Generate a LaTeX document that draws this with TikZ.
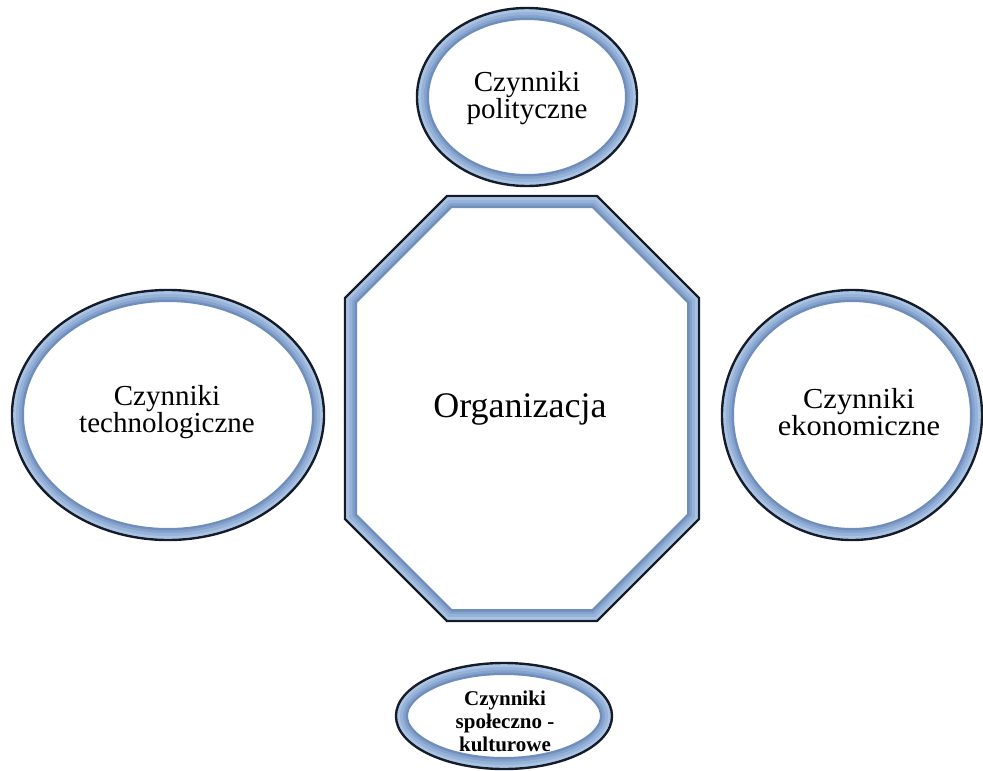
\documentclass[tikz,border=0pt]{standalone}
\usepackage{fontspec}
\setmainfont{Liberation Serif}
\usetikzlibrary{shapes.geometric}
\definecolor{edgedark}{HTML}{141C2B}
\definecolor{bandA}{HTML}{6F8EBC}
\definecolor{bandB}{HTML}{84A2CC}
\definecolor{bandC}{HTML}{96B2D8}
\definecolor{bandD}{HTML}{A8C2E3}
\definecolor{bandE}{HTML}{C9D9EE}
\tikzset{
  lbl/.style={align=center, font=\fontsize{29}{26}\selectfont, inner sep=0pt},
  biglbl/.style={align=center, font=\fontsize{36}{40}\selectfont, inner sep=0pt},
  smalllbl/.style={align=center, font=\bfseries\fontsize{21}{23}\selectfont, inner sep=0pt},
}
\newcommand{\ringshape}[1]{%
  \begin{scope}
    \clip #1;
    \draw[bandA, line width=24pt] #1;
    \draw[bandB, line width=19pt] #1;
    \draw[bandC, line width=14pt] #1;
    \draw[bandD, line width=8pt] #1;
    \draw[bandE, line width=3pt] #1;
  \end{scope}
  \draw[edgedark, line width=2.4pt] #1;
}
\begin{document}
\begin{tikzpicture}[x=1pt,y=-1pt]
\useasboundingbox (0,0) rectangle (983,771);
% shapes
\ringshape{(527,97) ellipse [x radius=110, y radius=89]}
\ringshape{(168,415) ellipse [x radius=156, y radius=125]}
\ringshape{(852,415) ellipse [x radius=130, y radius=125]}
\ringshape{(504,716) ellipse [x radius=108, y radius=53]}
\ringshape{(447,196) -- (597,196) -- (699,298) -- (699,519) -- (597,621) -- (447,621) -- (345,519) -- (345,298) -- cycle}
% nodes
\node[lbl] (pol) at (527,98) {Czynniki\\polityczne};
\node[lbl] (tech) at (167,412) {Czynniki\\technologiczne};
\node[lbl, xscale=1.05] (eko) at (859,412) {Czynniki\\ekonomiczne};
\node[biglbl, anchor=base] (org) at (520,417) {Organizacja};
\node[smalllbl] (spo) at (505,721) {Czynniki\\społeczno -\\kulturowe};
\end{tikzpicture}
\end{document}
